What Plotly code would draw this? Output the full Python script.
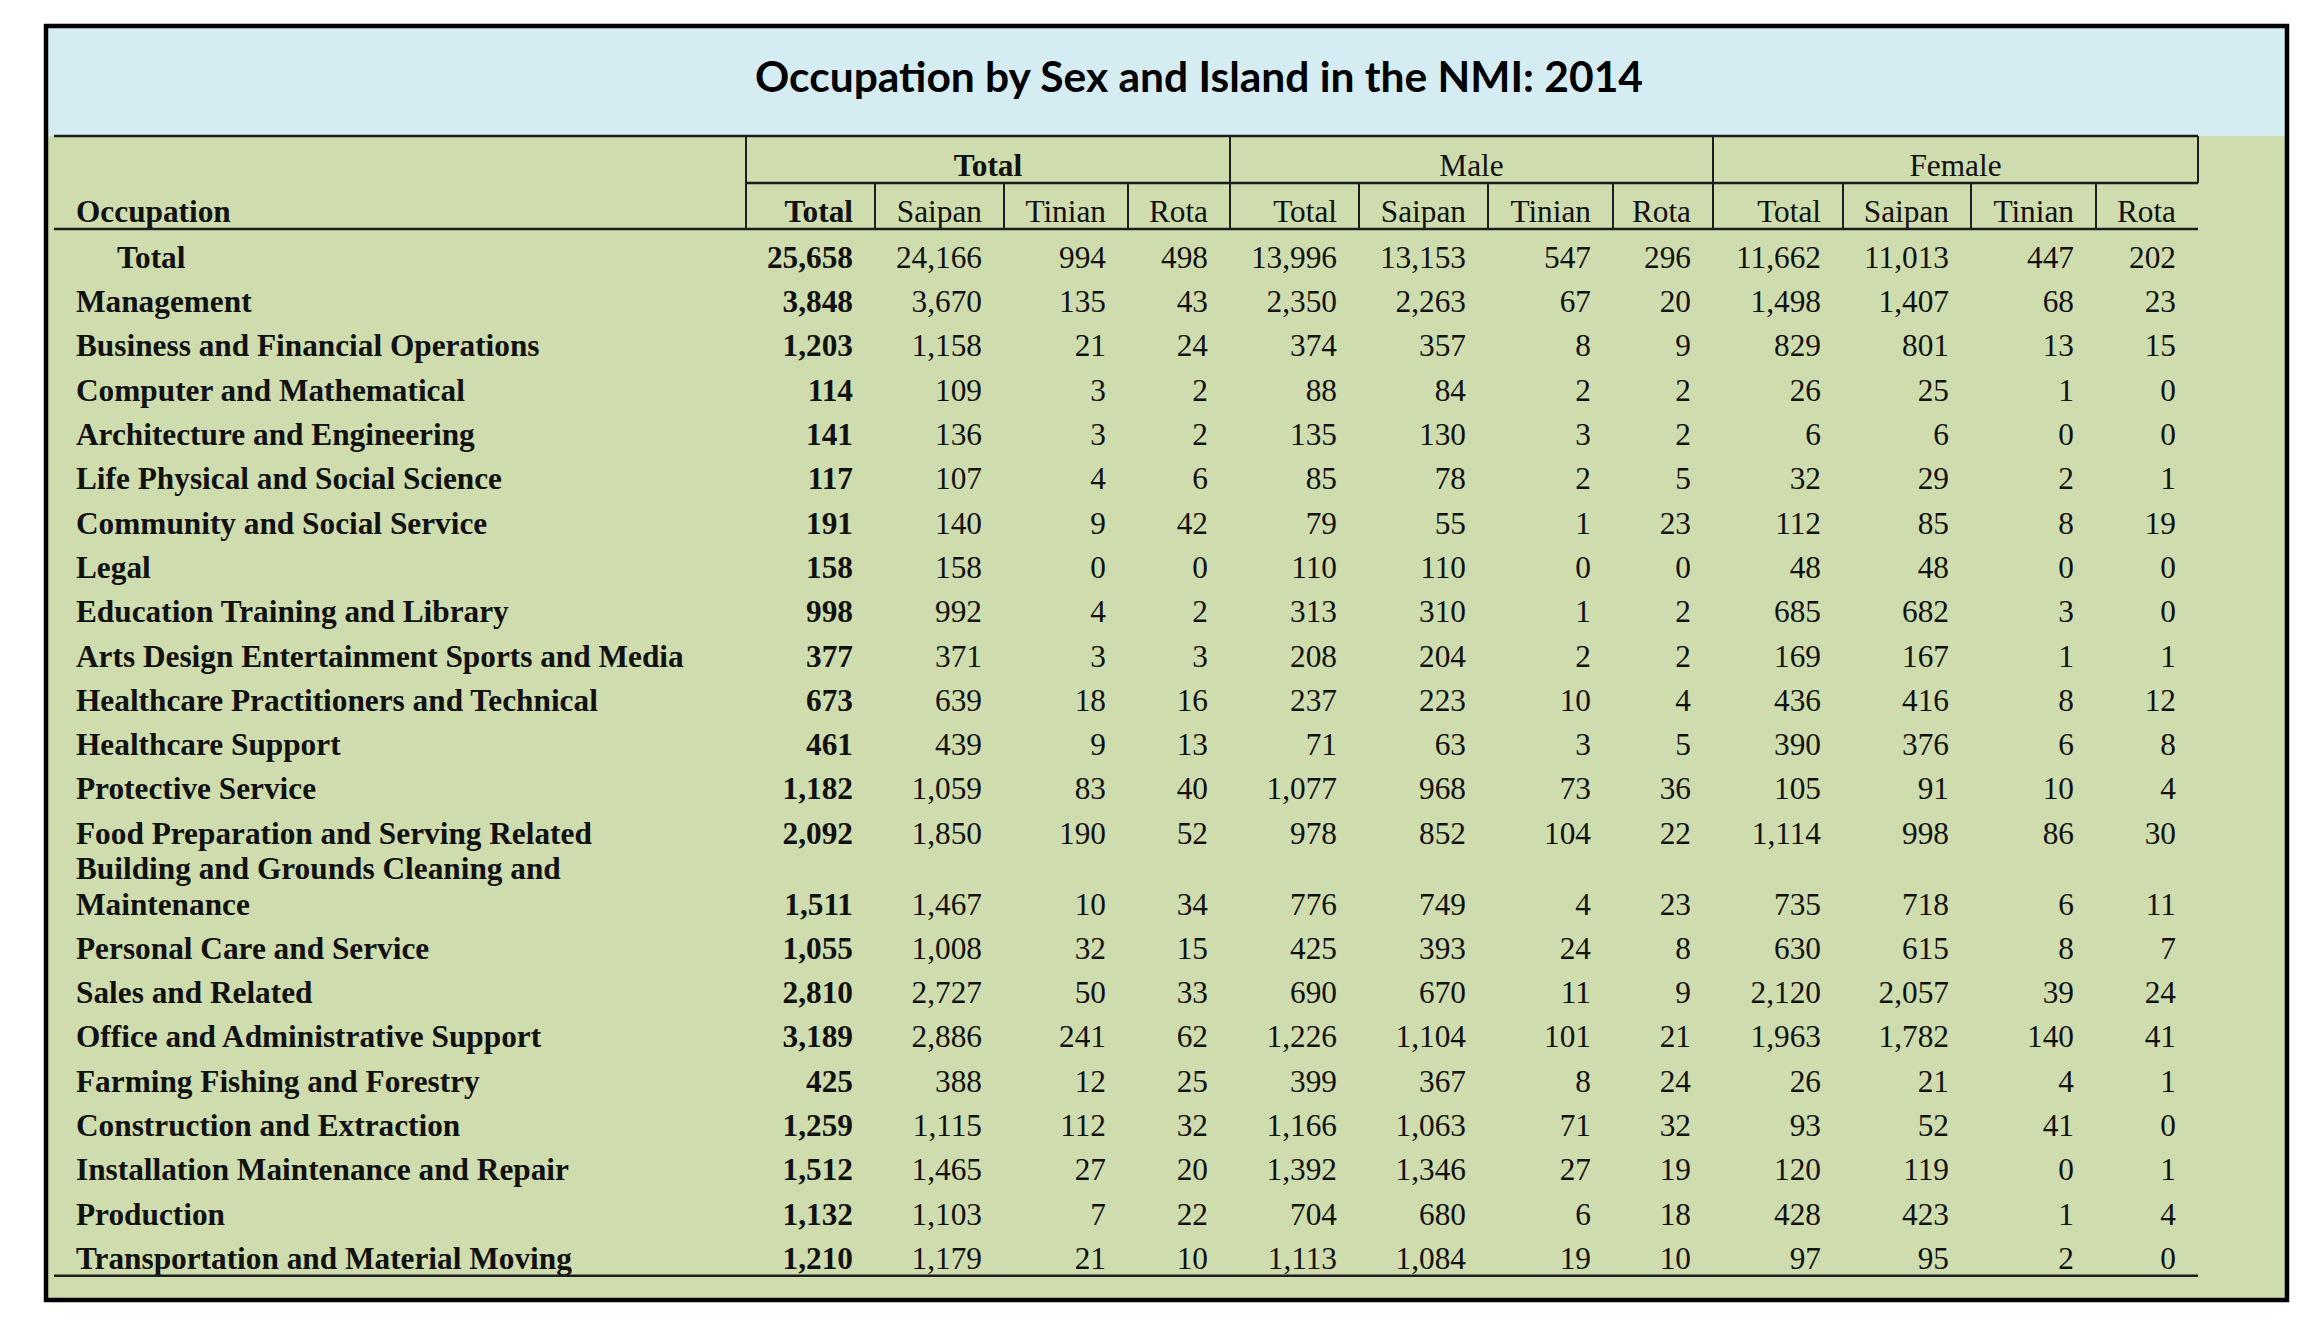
import textwrap
import plotly.graph_objects as go

# ---------------- data ----------------
title = "Occupation by Sex and Island in the NMI: 2014"
groups = ["Total", "Male", "Female"]
islands = ["Total", "Saipan", "Tinian", "Rota"]
row_header = "Occupation"

occupations = [
    "Total",
    "Management",
    "Business and Financial Operations",
    "Computer and Mathematical",
    "Architecture and Engineering",
    "Life Physical and Social Science",
    "Community and Social Service",
    "Legal",
    "Education Training and Library",
    "Arts Design Entertainment Sports and Media",
    "Healthcare Practitioners and Technical",
    "Healthcare Support",
    "Protective Service",
    "Food Preparation and Serving Related",
    "Building and Grounds Cleaning and Maintenance",
    "Personal Care and Service",
    "Sales and Related",
    "Office and Administrative Support",
    "Farming Fishing and Forestry",
    "Construction and Extraction",
    "Installation Maintenance and Repair",
    "Production",
    "Transportation and Material Moving",
]

total_total = [25658, 3848, 1203, 114, 141, 117, 191, 158, 998, 377, 673, 461, 1182, 2092, 1511, 1055, 2810, 3189, 425, 1259, 1512, 1132, 1210]
total_saipan = [24166, 3670, 1158, 109, 136, 107, 140, 158, 992, 371, 639, 439, 1059, 1850, 1467, 1008, 2727, 2886, 388, 1115, 1465, 1103, 1179]
total_tinian = [994, 135, 21, 3, 3, 4, 9, 0, 4, 3, 18, 9, 83, 190, 10, 32, 50, 241, 12, 112, 27, 7, 21]
total_rota = [498, 43, 24, 2, 2, 6, 42, 0, 2, 3, 16, 13, 40, 52, 34, 15, 33, 62, 25, 32, 20, 22, 10]

male_total = [13996, 2350, 374, 88, 135, 85, 79, 110, 313, 208, 237, 71, 1077, 978, 776, 425, 690, 1226, 399, 1166, 1392, 704, 1113]
male_saipan = [13153, 2263, 357, 84, 130, 78, 55, 110, 310, 204, 223, 63, 968, 852, 749, 393, 670, 1104, 367, 1063, 1346, 680, 1084]
male_tinian = [547, 67, 8, 2, 3, 2, 1, 0, 1, 2, 10, 3, 73, 104, 4, 24, 11, 101, 8, 71, 27, 6, 19]
male_rota = [296, 20, 9, 2, 2, 5, 23, 0, 2, 2, 4, 5, 36, 22, 23, 8, 9, 21, 24, 32, 19, 18, 10]

female_total = [11662, 1498, 829, 26, 6, 32, 112, 48, 685, 169, 436, 390, 105, 1114, 735, 630, 2120, 1963, 26, 93, 120, 428, 97]
female_saipan = [11013, 1407, 801, 25, 6, 29, 85, 48, 682, 167, 416, 376, 91, 998, 718, 615, 2057, 1782, 21, 52, 119, 423, 95]
female_tinian = [447, 68, 13, 1, 0, 2, 8, 0, 3, 1, 8, 6, 10, 86, 6, 8, 39, 140, 4, 41, 0, 1, 2]
female_rota = [202, 23, 15, 0, 0, 1, 19, 0, 0, 1, 12, 8, 4, 30, 11, 7, 24, 41, 1, 0, 1, 4, 0]

series = [
    total_total, total_saipan, total_tinian, total_rota,
    male_total, male_saipan, male_tinian, male_rota,
    female_total, female_saipan, female_tinian, female_rota,
]

# ---------------- layout constants ----------------
W, H = 2316, 1320
SERIF = "Liberation Serif, Times New Roman, serif"
TITLE_FONT = "Lato, Open Sans, sans-serif"
FS = 31.3
INK = "#111111"
LINE = "#1e1e1e"
GREEN = "#cfdcae"
BLUE = "#d5ecf3"

BOX = (46, 26, 2287, 1300)
TITLE_BOTTOM = 136
GROUP_BOTTOM = 183
HEADER_BOTTOM = 229
TABLE_LEFT = 54
col_edges = [746, 875, 1004, 1128, 1230, 1359, 1488, 1613, 1713, 1843, 1971, 2096, 2198]
TABLE_RIGHT = col_edges[-1]
PAD = 22
LABEL_X = 76
INDENT = 41
ROW0 = 260
STEP = 44.3
WRAP_WIDTH = 34
WRAP_LIMIT = 43
TEXT_SHIFT = 3

fig = go.Figure()

# row positions
row_y = []
label_x, label_y, label_t = [], [], []
y = ROW0
for i, name in enumerate(occupations):
    lines = textwrap.wrap(name, WRAP_WIDTH) if len(name) > WRAP_LIMIT else [name]
    if len(lines) > 1:
        y += 0.6 * STEP * (len(lines) - 1)
    row_y.append(y)
    for k, ln in enumerate(lines):
        label_x.append(LABEL_X + (INDENT if i == 0 else 0))
        label_y.append(y - (len(lines) - 1 - k) * 0.8 * STEP)
        label_t.append(ln)
    y += STEP

# row labels
fig.add_trace(go.Scatter(
    x=label_x, y=label_y, text=label_t, mode="text",
    textposition="middle right",
    textfont=dict(family=SERIF, size=FS, color=INK, weight="bold"),
    hoverinfo="skip", showlegend=False,
))

# numeric columns
for c, vals in enumerate(series):
    xr = col_edges[c + 1] - PAD
    bold = (c == 0)
    fig.add_trace(go.Scatter(
        x=[xr] * len(vals), y=row_y, text=[f"{v:,}" for v in vals],
        mode="text", textposition="middle left",
        textfont=dict(family=SERIF, size=FS, color=INK, weight="bold" if bold else "normal"),
        hoverinfo="skip", showlegend=False,
    ))

# sub headers (island names)
sub_y = HEADER_BOTTOM - 14.5
for c in range(len(series)):
    fig.add_trace(go.Scatter(
        x=[col_edges[c + 1] - PAD], y=[sub_y], text=[islands[c % len(islands)]],
        mode="text", textposition="middle left",
        textfont=dict(family=SERIF, size=FS, color=INK, weight="bold" if c == 0 else "normal"),
        hoverinfo="skip", showlegend=False,
    ))

# row header
fig.add_trace(go.Scatter(
    x=[LABEL_X], y=[sub_y], text=[row_header], mode="text",
    textposition="middle right",
    textfont=dict(family=SERIF, size=FS, color=INK, weight="bold"),
    hoverinfo="skip", showlegend=False,
))

# group headers
grp_y = GROUP_BOTTOM - 15
for g, name in enumerate(groups):
    x0 = col_edges[g * 4]
    x1 = col_edges[g * 4 + 4]
    fig.add_trace(go.Scatter(
        x=[(x0 + x1) / 2], y=[grp_y], text=[name], mode="text",
        textposition="middle center",
        textfont=dict(family=SERIF, size=FS, color=INK, weight="bold" if g == 0 else "normal"),
        hoverinfo="skip", showlegend=False,
    ))

# title
fig.add_trace(go.Scatter(
    x=[1199], y=[81], text=[title], mode="text", textposition="middle center",
    textfont=dict(family=TITLE_FONT, size=42.5, color="#000000", weight="bold"),
    hoverinfo="skip", showlegend=False,
))

# ---------------- shapes ----------------
shapes = []
bx0, by0, bx1, by1 = BOX
shapes.append(dict(type="rect", x0=bx0, y0=by0, x1=bx1, y1=TITLE_BOTTOM, fillcolor=BLUE, line_width=0, layer="below"))
shapes.append(dict(type="rect", x0=bx0, y0=TITLE_BOTTOM, x1=bx1, y1=by1, fillcolor=GREEN, line_width=0, layer="below"))

def hline(yv, xa, xb, w=2.5):
    shapes.append(dict(type="line", x0=xa, x1=xb, y0=yv, y1=yv, line=dict(color=LINE, width=w)))

def vline(xv, ya, yb, w=2):
    shapes.append(dict(type="line", x0=xv, x1=xv, y0=ya, y1=yb, line=dict(color=LINE, width=w)))

hline(TITLE_BOTTOM, TABLE_LEFT, TABLE_RIGHT)
hline(GROUP_BOTTOM, col_edges[0], TABLE_RIGHT)
hline(HEADER_BOTTOM, TABLE_LEFT, TABLE_RIGHT)
hline(row_y[-1] + 0.33 * STEP, TABLE_LEFT, TABLE_RIGHT)
for g in range(3):
    vline(col_edges[g * 4], TITLE_BOTTOM, HEADER_BOTTOM)
vline(TABLE_RIGHT, TITLE_BOTTOM, GROUP_BOTTOM)
for c in range(1, 12):
    if c % 4 != 0:
        vline(col_edges[c], GROUP_BOTTOM, HEADER_BOTTOM)

shapes.append(dict(type="rect", x0=bx0, y0=by0, x1=bx1, y1=by1, line=dict(color="#000000", width=4.5), fillcolor="rgba(0,0,0,0)"))

fig.update_layout(
    width=W, height=H,
    margin=dict(l=0, r=0, t=0, b=0),
    paper_bgcolor="white", plot_bgcolor="white",
    xaxis=dict(range=[0, W], visible=False, fixedrange=True),
    yaxis=dict(range=[H, 0], visible=False, fixedrange=True),
    shapes=shapes,
    showlegend=False,
)

fig.write_html("out.html", config={"displayModeBar": False},
               post_script="document.body.style.margin='0';document.body.style.overflow='hidden';")
